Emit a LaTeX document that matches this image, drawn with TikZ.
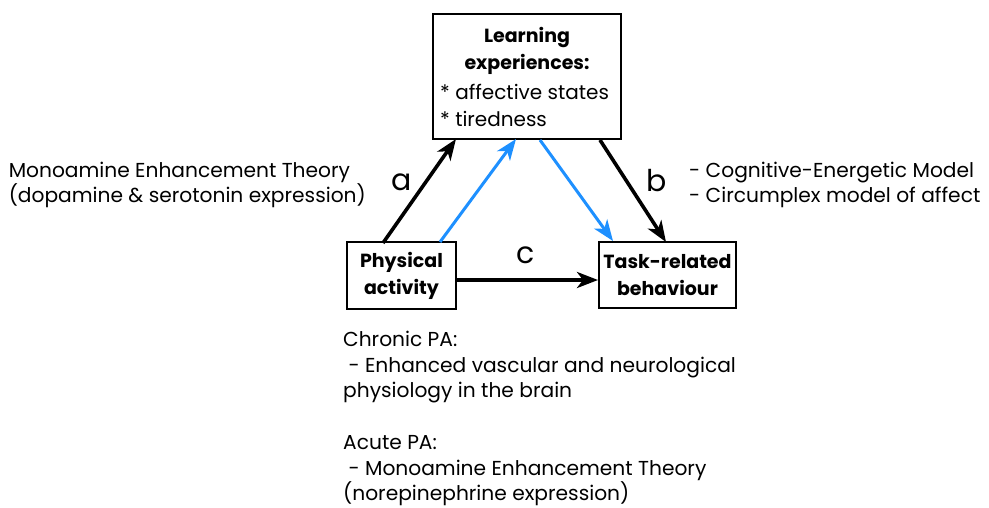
\documentclass[tikz,border=0pt]{standalone}
\usepackage{fontspec}
\setmainfont{Poppins}
\usetikzlibrary{positioning,arrows.meta}
\definecolor{paBlue}{RGB}{30,144,255}

\begin{document}
\begin{tikzpicture}[x=1pt,y=-1pt,
		box/.style={draw, line width=2pt, align=center, inner sep=0pt},
		lbl/.style={font=\fontsize{20.2}{25.7}\selectfont, align=left, inner sep=0pt},
		link/.style={line width=3.6pt, -{Stealth[length=21pt,width=16pt,inset=6pt]}},
		>=Stealth]
	\useasboundingbox (0,0) rectangle (989,507);

	% boxes
	\node[box, minimum width=188pt, minimum height=125pt] (learn) at (527,76.5) {};
	\node[font=\fontsize{19}{27}\selectfont\bfseries, align=center, anchor=north] (learnT) at (527,24) {Learning\\experiences:};
	\node[font=\fontsize{20}{27}\selectfont, align=left, anchor=north west, inner sep=0pt] (learnL) at (440,84) {* affective states\\* tiredness};
	\node[box, minimum width=109pt, minimum height=67pt, font=\fontsize{19}{27}\selectfont\bfseries] (pa) at (401.5,275.5) {Physical\\activity};
	\node[box, minimum width=137pt, minimum height=66pt, font=\fontsize{19}{27}\selectfont\bfseries] (task) at (667.5,275) {Task-related\\behaviour};

	% connectors
	\coordinate (aS) at (383,243);
	\coordinate (aE) at (456,139);
	\coordinate (u1S) at (440,242);
	\coordinate (u1E) at (516,139);
	\coordinate (u2S) at (540,140);
	\coordinate (u2E) at (613,241);
	\coordinate (bS) at (600,140);
	\coordinate (bE) at (666,242);
	\draw[link] (aS) -- (aE);
	\draw[link, paBlue, line width=3pt] (u1S) -- (u1E);
	\draw[link, paBlue, line width=3pt] (u2S) -- (u2E);
	\draw[link] (bS) -- (bE);
	\draw[link] (pa.east |- 0,280) -- (task.west |- 0,280);

	\node[font=\fontsize{30}{30}\selectfont] (la) at (402,182) {a};
	\node[font=\fontsize{30}{30}\selectfont] (lb) at (657,181) {b};
	\node[font=\fontsize{30}{30}\selectfont] (lc) at (526,255) {c};

	% side notes
	\node[lbl, anchor=east] (left) at (366,185) {Monoamine Enhancement Theory\\(dopamine \& serotonin expression)};
	\node[lbl, anchor=west] (right) at (689,185) {- Cognitive-Energetic Model\\- Circumplex model of affect};
	\node[lbl, anchor=north west] (below) at (343,331) {Chronic PA:\\\ - Enhanced vascular and neurological\\physiology in the brain\\[25.7pt]Acute PA:\\\ - Monoamine Enhancement Theory\\(norepinephrine expression)};
\end{tikzpicture}
\end{document}
